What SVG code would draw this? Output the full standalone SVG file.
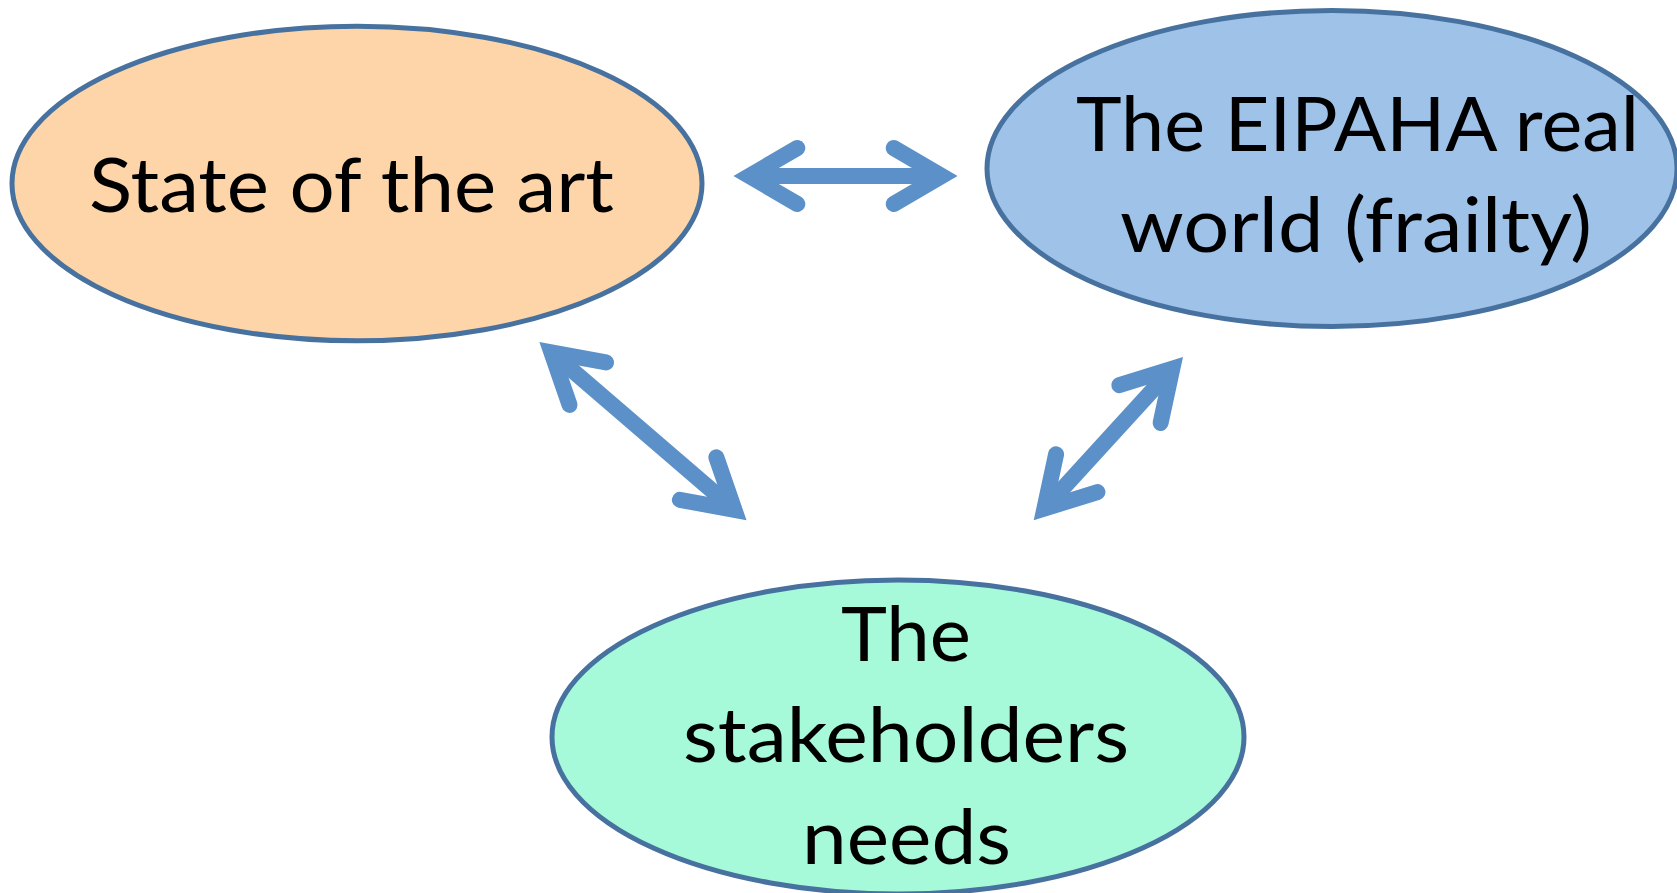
<svg xmlns="http://www.w3.org/2000/svg" xmlns:xlink="http://www.w3.org/1999/xlink" width="1677" height="893" viewBox="0 0 1677 893">
<style>
.node{stroke:#47719f;stroke-width:5}
.lbl{font-family:Lato,"Open Sans",sans-serif;font-size:76px;fill:#000}
.shaft{stroke:#5b90c8;stroke-width:16;fill:none;stroke-linecap:butt}
.head{stroke:#5b90c8;stroke-width:16;fill:none;stroke-linecap:round;stroke-linejoin:miter;stroke-miterlimit:6}
</style>
<defs>
<path id="ah" d="M48,-28 L0,0 L48,28"/>
</defs>
<rect width="1677" height="893" fill="#fff"/>
<g id="state-of-the-art">
<ellipse class="node" cx="357" cy="183.5" rx="345" ry="157.3" fill="#fdd5a9"/>
<text class="lbl" x="89" y="211.8" textLength="525" lengthAdjust="spacingAndGlyphs">State of the art</text>
</g>
<g id="eipaha-real-world">
<ellipse class="node" cx="1332" cy="168.5" rx="345" ry="158" fill="#9fc2e9"/>
<text class="lbl" x="1076" y="150.8" textLength="563" lengthAdjust="spacingAndGlyphs">The EIPAHA real</text>
<text class="lbl" x="1120" y="251.5" textLength="472" lengthAdjust="spacingAndGlyphs">world (frailty)</text>
</g>
<g id="stakeholders-needs">
<ellipse class="node" cx="898" cy="737" rx="346" ry="157" fill="#a6f9d9"/>
<text class="lbl" x="841" y="660.5" textLength="130" lengthAdjust="spacingAndGlyphs">The</text>
<text class="lbl" x="683" y="762" textLength="446" lengthAdjust="spacingAndGlyphs">stakeholders</text>
<text class="lbl" x="802" y="863.5" textLength="209" lengthAdjust="spacingAndGlyphs">needs</text>
</g>
<g id="connectors">
<line class="shaft" x1="749.3" y1="176" x2="941.7" y2="176"/>
<use xlink:href="#ah" class="head" transform="translate(749.3,176)"/>
<use xlink:href="#ah" class="head" transform="translate(941.7,176) rotate(180)"/>
<line class="shaft" x1="551.4" y1="352.4" x2="734.5" y2="509.9"/>
<use xlink:href="#ah" class="head" transform="translate(551.4,352.4) rotate(40.7)"/>
<use xlink:href="#ah" class="head" transform="translate(734.5,509.9) rotate(220.7)"/>
<line class="shaft" x1="1172.3" y1="368.6" x2="1044.4" y2="508.6"/>
<use xlink:href="#ah" class="head" transform="translate(1172.3,368.6) rotate(132.4)"/>
<use xlink:href="#ah" class="head" transform="translate(1044.4,508.6) rotate(312.4)"/>
</g>
</svg>
